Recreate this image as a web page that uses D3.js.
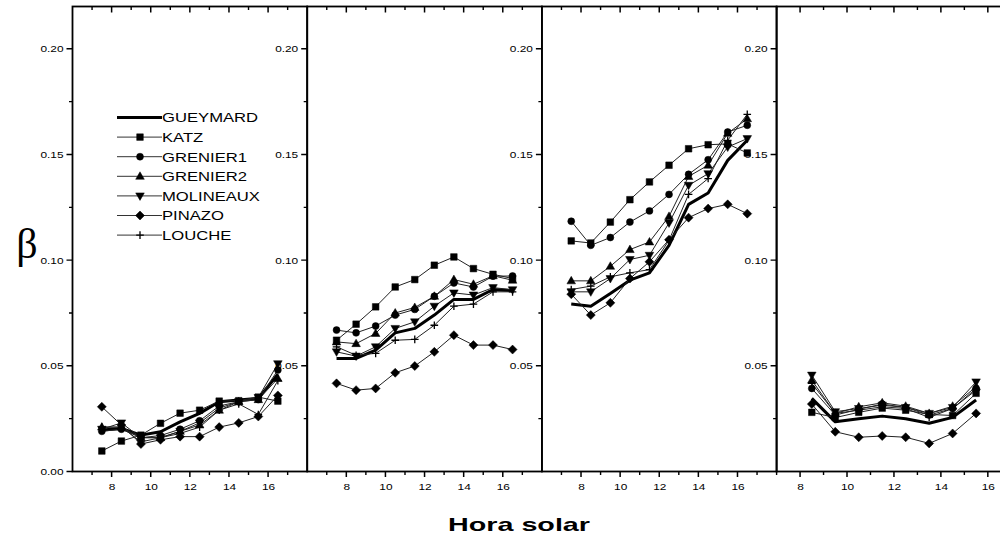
<!DOCTYPE html>
<html><head><meta charset="utf-8">
<script src="https://cdn.jsdelivr.net/npm/d3@7"></script>
<style>body{margin:0;background:#fff}svg{display:block;font-family:"Liberation Sans",Arial,sans-serif}</style>
</head><body>
<svg id="chart" width="1000" height="545"></svg>
<script>
// ---- data ----
const seriesNames = ["GUEYMARD","KATZ","GRENIER1","GRENIER2","MOLINEAUX","PINAZO","LOUCHE"];
const hoursFull = [7.5,8.5,9.5,10.5,11.5,12.5,13.5,14.5,15.5,16.5];
const hoursShort = [8.5,9.5,10.5,11.5,12.5,13.5,14.5,15.5];
const panelHours = [hoursFull, hoursFull, hoursFull, hoursShort];
const panelDomains = [[6,18],[6,18],[6,18],[7,17]];
const xTickLabels = [8,10,12,14,16];
const yTickLabels = [0.00,0.05,0.10,0.15,0.20];
const yMinorTicks = [0.025,0.075,0.125,0.175];

// one array per series, one inner list per panel
const gueymard = [
  [0.0196,0.0204,0.0172,0.0188,0.0235,0.0275,0.0330,0.0338,0.0346,0.0460],
  [0.0535,0.0535,0.0574,0.0656,0.0677,0.0740,0.0814,0.0814,0.0861,0.0855],
  [0.0792,0.0782,0.0842,0.0905,0.0940,0.1070,0.1264,0.1318,0.1472,0.1567],
  [0.0346,0.0235,0.0250,0.0262,0.0250,0.0228,0.0256,0.0338]
];
const katz = [
  [0.0097,0.0144,0.0172,0.0228,0.0276,0.0290,0.0333,0.0335,0.0352,0.0333],
  [0.0621,0.0697,0.0779,0.0873,0.0908,0.0976,0.1015,0.0960,0.0933,0.0913],
  [0.1091,0.1081,0.1180,0.1286,0.1370,0.1449,0.1527,0.1546,0.1550,0.1507],
  [0.0280,0.0255,0.0280,0.0300,0.0290,0.0270,0.0265,0.0370]
];
const grenier1 = [
  [0.0190,0.0200,0.0160,0.0170,0.0200,0.0240,0.0310,0.0330,0.0340,0.0480],
  [0.0669,0.0656,0.0688,0.0740,0.0767,0.0829,0.0892,0.0873,0.0924,0.0925],
  [0.1184,0.1070,0.1107,0.1180,0.1233,0.1311,0.1406,0.1475,0.1606,0.1638],
  [0.0393,0.0267,0.0294,0.0319,0.0303,0.0267,0.0298,0.0393]
];
const grenier2 = [
  [0.0210,0.0210,0.0160,0.0160,0.0190,0.0220,0.0290,0.0330,0.0340,0.0440],
  [0.0613,0.0605,0.0653,0.0750,0.0776,0.0829,0.0908,0.0886,0.0926,0.0905],
  [0.0902,0.0902,0.0971,0.1050,0.1086,0.1207,0.1396,0.1449,0.1600,0.1669],
  [0.0432,0.0275,0.0306,0.0325,0.0309,0.0275,0.0309,0.0401]
];
const molineaux = [
  [0.0200,0.0230,0.0160,0.0160,0.0190,0.0230,0.0300,0.0330,0.0350,0.0510],
  [0.0566,0.0546,0.0590,0.0677,0.0708,0.0782,0.0845,0.0835,0.0870,0.0860],
  [0.0850,0.0850,0.0913,0.1003,0.1023,0.1176,0.1354,0.1409,0.1535,0.1575],
  [0.0456,0.0283,0.0298,0.0314,0.0303,0.0275,0.0303,0.0424]
];
const pinazo = [
  [0.0306,0.0220,0.0130,0.0150,0.0165,0.0165,0.0210,0.0230,0.0260,0.0360],
  [0.0417,0.0385,0.0393,0.0467,0.0499,0.0566,0.0645,0.0598,0.0598,0.0577],
  [0.0839,0.0740,0.0798,0.0913,0.0992,0.1097,0.1201,0.1244,0.1264,0.1220],
  [0.0319,0.0188,0.0162,0.0168,0.0162,0.0133,0.0180,0.0275]
];
const louche = [
  [0.0210,0.0210,0.0140,0.0160,0.0180,0.0210,0.0290,0.0320,0.0270,0.0430],
  [0.0590,0.0550,0.0559,0.0621,0.0625,0.0692,0.0782,0.0792,0.0850,0.0850],
  [0.0861,0.0877,0.0921,0.0940,0.0955,0.1094,0.1311,0.1386,0.1567,0.1690],
  [0.0417,0.0275,0.0290,0.0306,0.0298,0.0256,0.0298,0.0385]
];
const seriesValues = [gueymard, katz, grenier1, grenier2, molineaux, pinazo, louche];
const seriesMarkers = ["none","square","circle","triangleUp","triangleDown","diamond","plus"];

// ---- layout ----
const svg = d3.select("#chart");
const topY = 6.5, bottomY = 471.5;
const firstLeft = 72.5, panelW = 234.7;
const y = d3.scaleLinear().domain([0, 0.22]).range([bottomY, topY]);
const ink = "#000";
const txtScale = 1.32;

function markerPath(type) {
  switch (type) {
    case "square": return "M-3.3,-3.3H3.3V3.3H-3.3Z";
    case "circle": return d3.symbol(d3.symbolCircle, 38)();
    case "triangleUp": return "M0,-4.5L4.3,3L-4.3,3Z";
    case "triangleDown": return "M0,4.5L4.3,-3L-4.3,-3Z";
    case "diamond": return "M0,-4.5L4.5,0L0,4.5L-4.5,0Z";
    case "plus": return "M-3.8,0H3.8M0,-3.8V3.8";
    default: return "";
  }
}
function drawMarker(g, type, cx, cy) {
  if (type === "none") return;
  const p = g.append("path").attr("d", markerPath(type))
    .attr("transform", `translate(${cx},${cy})`);
  if (type === "plus") p.attr("fill", "none").attr("stroke", ink).attr("stroke-width", 1.3);
  else p.attr("fill", ink).attr("stroke", ink).attr("stroke-width", 0.5);
}
// tick marks as one path per set, positioned by the scales
function xTicks(g, x, vals, y0, len, w) {
  g.append("path").attr("d", vals.map(v => `M${x(v)},${y0}v${len}`).join(""))
    .attr("fill", "none").attr("stroke", ink).attr("stroke-width", w);
}
function yTicks(g, x0, vals, len, w) {
  g.append("path").attr("d", vals.map(v => `M${x0},${y(v)}h${-len}`).join(""))
    .attr("fill", "none").attr("stroke", ink).attr("stroke-width", w);
}

panelDomains.forEach((dom, i) => {
  const left = firstLeft + i * panelW;
  const x = d3.scaleLinear().domain(dom).range([left, left + panelW]);
  const g = svg.append("g");
  const allHours = d3.range(dom[0], dom[1] + 0.001, 1);
  const oddHours = allHours.filter(h => h % 2 === 1);

  // bottom axis labels (d3 axis), ticks drawn as paths
  const bAx = g.append("g").attr("transform", `translate(0,${bottomY})`)
    .call(d3.axisBottom(x).tickValues(xTickLabels).tickSizeInner(5).tickSizeOuter(0).tickPadding(7).tickFormat(d3.format("d")));
  bAx.select(".domain").remove();
  bAx.selectAll("line").remove();
  bAx.selectAll("text").attr("font-size", 9).attr("fill", ink).attr("x", 0)
    .attr("transform", `scale(${txtScale},1)`).attr("font-family", "Liberation Sans, Arial, sans-serif");
  xTicks(g, x, xTickLabels, bottomY, 5.5, 1.5);
  xTicks(g, x, oddHours, bottomY, 3.5, 1.4);
  // top: inward ticks
  xTicks(g, x, xTickLabels, topY, 6, 1.5);
  xTicks(g, x, oddHours, topY, 3.5, 1.4);

  // left axis labels
  const yVals = i === 0 ? yTickLabels : yTickLabels.filter(v => v > 0);
  const lAx = g.append("g").attr("transform", `translate(${left},0)`)
    .call(d3.axisLeft(y).tickValues(yVals).tickSizeInner(6).tickSizeOuter(0).tickPadding(4).tickFormat(d3.format(".2f")));
  lAx.select(".domain").remove();
  lAx.selectAll("line").remove();
  lAx.selectAll("text").attr("font-size", 9).attr("fill", ink).attr("x", 0)
    .attr("transform", `translate(-9,0) scale(${txtScale},1)`).attr("font-family", "Liberation Sans, Arial, sans-serif");
  yTicks(g, left, yVals, 6, 1.4);
  yTicks(g, left, yMinorTicks, 3.5, 1.3);

  // panel frame
  g.append("rect").attr("x", left).attr("y", topY).attr("width", panelW).attr("height", bottomY - topY)
    .attr("fill", "none").attr("stroke", ink).attr("stroke-width", 1.8);

  // series
  const hours = panelHours[i];
  seriesValues.forEach((vals, s) => {
    const pts = vals[i].map((v, k) => [x(hours[k]), y(v)]);
    const isG = s === 0;
    g.append("path").attr("d", d3.line()(pts)).attr("fill", "none")
      .attr("stroke", isG ? "#000" : "#222").attr("stroke-width", isG ? 3 : 1)
      .attr("stroke-linejoin", "round");
  });
  seriesValues.forEach((vals, s) => {
    vals[i].forEach((v, k) => drawMarker(g, seriesMarkers[s], x(hours[k]), y(v)));
  });
});

// legend
const lg = svg.append("g");
seriesNames.forEach((name, s) => {
  const ly = 117.5 + s * 19.6;
  lg.append("path").attr("d", `M117,${ly}H162`).attr("fill", "none")
    .attr("stroke", s === 0 ? "#000" : "#333").attr("stroke-width", s === 0 ? 3 : 1);
  drawMarker(lg, seriesMarkers[s], 140, ly);
  lg.append("text").attr("x", 0).attr("y", 0).attr("font-size", 13).attr("fill", ink)
    .attr("transform", `translate(162,${ly + 4.8}) scale(1.28,1)`).text(name);
});

// axis titles
svg.append("text").attr("x", 27).attr("y", 258).attr("text-anchor", "middle")
  .attr("font-family", "Liberation Serif, Times New Roman, serif").attr("font-size", 42).attr("fill", ink).text("β");
svg.append("text").attr("x", 519).attr("y", 531).attr("text-anchor", "middle")
  .attr("font-size", 19).attr("font-weight", "bold").attr("fill", ink)
  .attr("textLength", 142).attr("lengthAdjust", "spacingAndGlyphs").text("Hora solar");
</script>
</body></html>
